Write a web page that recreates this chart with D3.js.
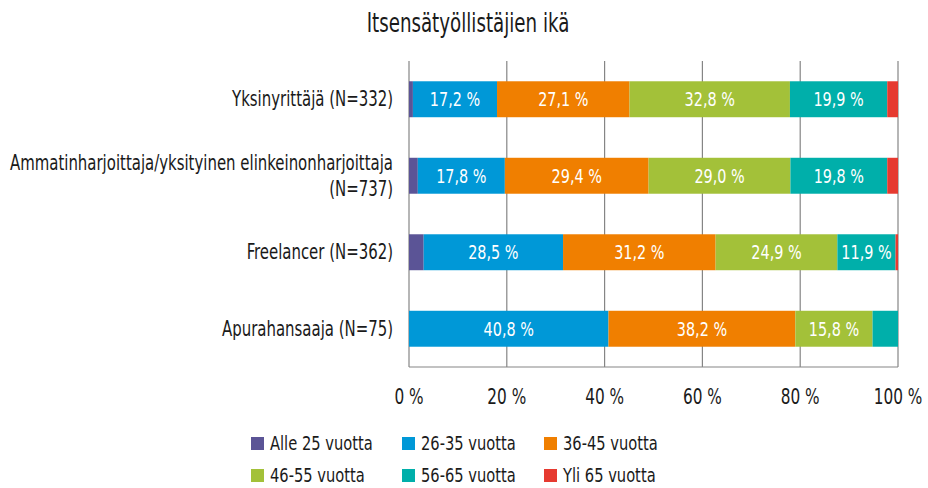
<!DOCTYPE html>
<html><head><meta charset="utf-8">
<script src="https://cdn.jsdelivr.net/npm/d3@7"></script>
<style>
body{margin:0;background:#fff;}
text{font-family:"DejaVu Sans Condensed","DejaVu Sans",sans-serif;}
</style></head>
<body><svg id="c" width="928" height="488"></svg>
<script>
const categories = ["Yksinyrittäjä (N=332)", "Ammatinharjoittaja/yksityinen elinkeinonharjoittaja\n(N=737)", "Freelancer (N=362)", "Apurahansaaja (N=75)"];
const seriesNames = ["Alle 25 vuotta", "26-35 vuotta", "36-45 vuotta", "46-55 vuotta", "56-65 vuotta", "Yli 65 vuotta"];
const alle25 = [0.8, 1.8, 3.0, 0];
const v26_35 = [17.2, 17.8, 28.5, 40.8];
const v36_45 = [27.1, 29.4, 31.2, 38.2];
const v46_55 = [32.8, 29.0, 24.9, 15.8];
const v56_65 = [19.9, 19.8, 11.9, 5.2];
const yli65 = [2.2, 2.2, 0.5, 0];
const tickValues = [0, 20, 40, 60, 80, 100];
const colors = ["#5b5496", "#0098d7", "#f07f00", "#a3c139", "#00afaa", "#e63a30"];

const seriesVals = [alle25, v26_35, v36_45, v46_55, v56_65, yli65];
const rows = categories.map((c, i) => {
  const o = {cat: c};
  seriesNames.forEach((s, j) => o[s] = seriesVals[j][i]);
  return o;
});
const stack = d3.stack().keys(seriesNames)(rows);

const svg = d3.select("#c");
const x = d3.scaleLinear().domain([0, 100]).range([409, 898]);
const y = d3.scaleBand().domain(categories).range([61, 367]).paddingInner(0.53).paddingOuter(0.265);

// condensed text helper
function ctext(parent, px, py, str, size, anchor, sx, fill) {
  return parent.append("text")
    .attr("transform", `translate(${px},${py}) scale(${sx},1)`)
    .attr("text-anchor", anchor).attr("font-size", size).attr("fill", fill || "#1a1a1a").text(str);
}

ctext(svg, 468, 32, "Itsensätyöllistäjien ikä", 26, "middle", 0.78);

// gridlines
svg.append("g").selectAll("line").data(tickValues).join("line")
  .attr("x1", d => x(d)).attr("x2", d => x(d)).attr("y1", 61).attr("y2", 367)
  .attr("stroke", "#858585").attr("stroke-width", 1.2);
svg.append("line").attr("x1", x(0)).attr("x2", x(100)).attr("y1", 367).attr("y2", 367)
  .attr("stroke", "#858585").attr("stroke-width", 1.2);

// bars
const g = svg.append("g");
stack.forEach((s, j) => {
  g.append("g").attr("fill", colors[j]).selectAll("rect").data(s).join("rect")
    .attr("x", d => x(d[0])).attr("width", d => x(d[1]) - x(d[0]))
    .attr("y", d => y(d.data.cat)).attr("height", y.bandwidth());
});
stack.forEach((s, j) => {
  s.filter(d => d[1] - d[0] >= 10).forEach(d => {
    ctext(g, (x(d[0]) + x(d[1])) / 2, y(d.data.cat) + y.bandwidth() / 2 + 7,
      d3.format(".1f")(d[1] - d[0]).replace(".", ",") + " %", 20, "middle", 0.8, "#fff");
  });
});

// x axis tick labels
const xAxis = d3.axisBottom(x).tickValues(tickValues).tickSize(0).tickFormat(d => d + " %");
const ax = svg.append("g").call(xAxis);
ax.select(".domain").remove();
ax.selectAll(".tick").attr("transform", null);
ax.selectAll(".tick text").each(function(d) {
  d3.select(this).attr("x", null).attr("y", null).attr("dy", null)
    .attr("transform", `translate(${x(d)},404) scale(0.83,1)`)
    .attr("font-size", 20.5).attr("fill", "#1a1a1a").attr("font-family", null);
});

// category labels
const yl = svg.append("g");
categories.forEach(c => {
  const lines = c.split("\n");
  const cy = y(c) + y.bandwidth() / 2;
  lines.forEach((l, k) => {
    ctext(yl, 393, cy + 7 + (k - (lines.length - 1) / 2) * 26, l, 20.5, "end", 0.81);
  });
});

// legend
const legX = [251, 402, 544], legY = [437, 469];
const leg = svg.append("g");
seriesNames.forEach((s, j) => {
  const lx = legX[j % 3], ly = legY[Math.floor(j / 3)];
  leg.append("rect").attr("x", lx).attr("y", ly).attr("width", 13).attr("height", 13).attr("fill", colors[j]);
  ctext(leg, lx + 19, ly + 13, s, 19, "start", 0.86);
});
</script></body></html>
